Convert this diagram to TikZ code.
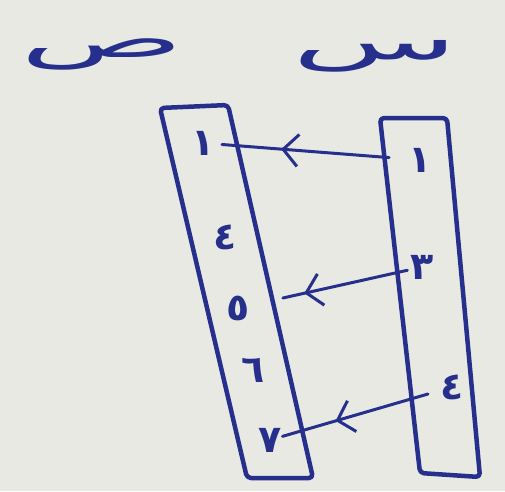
\documentclass[tikz,border=0pt]{standalone}
\usepackage{fontspec}
\newfontfamily\arabicfont[Script=Arabic]{DejaVu Sans}
\TeXXeTstate=1
\usetikzlibrary{arrows.meta,decorations.markings}
\definecolor{ink}{RGB}{38,48,140}
\definecolor{paper}{RGB}{233,233,228}
\begin{document}
\begin{tikzpicture}[x=1pt,y=-1pt,
  column/.style={draw=ink, line width=4.5pt, rounded corners=4pt, line join=round},
  digit/.style={text=ink, font=\arabicfont\bfseries\fontsize{38}{38}\selectfont, inner sep=1pt},
  letter/.style={text=ink, font=\arabicfont\fontsize{52}{52}\selectfont, inner sep=0pt, xscale=2.6},
  maparrow/.style={draw=ink, line width=3pt, line cap=round, postaction={decorate},
    decoration={markings, mark=at position 0.64 with {\arrow{Straight Barb[length=15pt,width=32pt,line width=3pt]}}}}]
\fill[paper] (0,0) rectangle (505,491);
\useasboundingbox (0,0) rectangle (505,491);
% set labels
\node[letter] (Y) at (102,54) {\beginR ص\endR};
\node[letter] (X) at (375,56) {\beginR س\endR};
% columns
\draw[column] (160,108) -- (228,105) -- (313,478) -- (247,478) -- cycle;
\draw[column] (380,118) -- (447,118) -- (480,477) -- (420,473) -- cycle;
% left column digits
\node[digit] (l1) at (203,143) {\beginR ١\endR};
\node[digit] (l4) at (225,237) {\beginR ٤\endR};
\node[digit] (l5) at (238,308) {\beginR ٥\endR};
\node[digit] (l6) at (253,370) {\beginR ٦\endR};
\node[digit] (l7) at (270,440) {\beginR ٧\endR};
% right column digits
\node[digit] (r1) at (420,160) {\beginR ١\endR};
\node[digit] (r3) at (422,267) {\beginR ٣\endR};
\node[digit] (r4) at (452,387) {\beginR ٤\endR};
% mapping arrows
\draw[maparrow, shorten <=31pt, shorten >=19pt] (r1.center) -- (l1.center);
\draw[maparrow, shorten <=15pt, shorten >=46pt] (r3.center) -- (l5.center);
\draw[maparrow, shorten <=25pt, shorten >=13pt] (r4.center) -- (l7.center);
\end{tikzpicture}
\end{document}
